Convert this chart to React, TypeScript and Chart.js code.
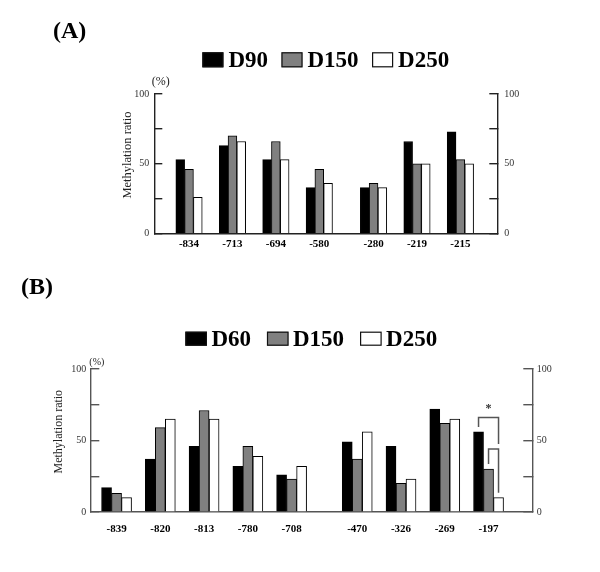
import React, { useEffect, useRef } from 'react';
import { Chart, registerables } from 'chart.js';

Chart.register(...registerables);

const SERIF = "'Liberation Serif', 'Times New Roman', serif";

// ---------- Data: panel (A) ----------
const sitesA = ['-834', '-713', '-694', '-580', '-280', '-219', '-215'];
const d90A = [53, 63, 53, 33, 33, 66, 73];
const d150A = [46, 70, 66, 46, 36, 50, 53];
const d250A = [26, 66, 53, 36, 33, 50, 50];

// ---------- Data: panel (B) ----------
const sitesB = ['-839', '-820', '-813', '-780', '-708', '-470', '-326', '-269', '-197'];
const d60B = [17, 37, 46, 32, 26, 49, 46, 72, 56];
const d150B = [13, 59, 71, 46, 23, 37, 20, 62, 30];
const d250B = [10, 65, 65, 39, 32, 56, 23, 65, 10];

// y-axis ticks (marks) and the ones that carry a label
const yTickValues = [0, 25, 50, 75, 100];
const yTickLabels = [0, 50, 100];

// significance brackets for panel (B): at site index, between series, top level (%)
const bracketsB = [
  { index: 8, from: 0, to: 2, level: 66 },
  { index: 8, from: 1, to: 2, level: 44 },
];

const BLACK = '#000000';
const GRAY = '#808080';
const WHITE = '#ffffff';

const decorPlugin = {
  id: 'decor',
  afterDraw(chart: any, _args: any, opts: any) {
    const { ctx, chartArea: ca } = chart;
    ctx.save();
    ctx.fillStyle = '#000';
    // panel title
    ctx.font = `bold ${opts.titleSize}px ${SERIF}`;
    ctx.textAlign = 'left';
    ctx.textBaseline = 'middle';
    ctx.fillText(opts.title, opts.titleX, opts.titleY);

    // legend
    const ds = chart.data.datasets;
    ctx.font = `bold ${opts.legendFont}px ${SERIF}`;
    const widths = ds.map((d: any) => ctx.measureText(d.label).width);
    const total =
      ds.length * (opts.boxW + opts.boxGap) +
      widths.reduce((a: number, b: number) => a + b, 0) +
      (ds.length - 1) * opts.itemGap;
    let x = (ca.left + ca.right) / 2 - total / 2;
    const by = opts.boxTop;
    ds.forEach((d: any, i: number) => {
      ctx.fillStyle = d.backgroundColor;
      ctx.fillRect(x, by, opts.boxW, opts.boxH);
      ctx.strokeStyle = '#111';
      ctx.lineWidth = 1.2;
      ctx.strokeRect(x + 0.5, by + 0.5, opts.boxW - 1, opts.boxH - 1);
      ctx.fillStyle = '#000';
      ctx.textBaseline = 'alphabetic';
      ctx.textAlign = 'left';
      ctx.fillText(d.label, x + opts.boxW + opts.boxGap, by + opts.boxH);
      x += opts.boxW + opts.boxGap + widths[i] + opts.itemGap;
    });

    // (%) unit label
    ctx.font = `${opts.unitFont}px ${SERIF}`;
    ctx.fillStyle = '#222';
    ctx.textBaseline = 'middle';
    ctx.textAlign = 'left';
    ctx.fillText('(%)', ca.left + opts.unitDx, ca.top + opts.unitDy);

    // y title
    ctx.save();
    ctx.translate(opts.yTitleX, opts.yTitleY);
    ctx.rotate(-Math.PI / 2);
    ctx.font = `${opts.yTitleFont}px ${SERIF}`;
    ctx.textAlign = 'center';
    ctx.textBaseline = 'middle';
    ctx.fillText('Methylation ratio', 0, 0);
    ctx.restore();

    // brackets
    const brs = opts.brackets || [];
    if (brs.length) {
      const ys = chart.scales.y;
      const items = brs.map((b: any) => {
        const eF = chart.getDatasetMeta(b.from).data[b.index];
        const eT = chart.getDatasetMeta(b.to).data[b.index];
        return { xL: eF.x, xR: eT.x, yT: ys.getPixelForValue(b.level), bL: eF.y, bR: eT.y };
      });
      ctx.strokeStyle = '#555';
      ctx.lineWidth = 1.5;
      items.forEach((it: any, k: number) => {
        const legBottom = (xx: number, barTop: number) => {
          let bottom = barTop - 5;
          items.forEach((o: any, j: number) => {
            if (j !== k && o.yT > it.yT && xx >= o.xL - 1 && xx <= o.xR + 1) {
              bottom = Math.min(bottom, o.yT - 5);
            }
          });
          return bottom;
        };
        ctx.beginPath();
        ctx.moveTo(it.xL, legBottom(it.xL, it.bL));
        ctx.lineTo(it.xL, it.yT);
        ctx.lineTo(it.xR, it.yT);
        ctx.lineTo(it.xR, legBottom(it.xR, it.bR));
        ctx.stroke();
      });
      const top = items.reduce((a: any, b: any) => (b.yT < a.yT ? b : a));
      ctx.fillStyle = '#333';
      ctx.font = `bold 12px ${SERIF}`;
      ctx.textAlign = 'center';
      ctx.textBaseline = 'middle';
      ctx.fillText('*', (top.xL + top.xR) / 2, top.yT - 9);
    }
    ctx.restore();
  },
};

function makeConfig(p: any) {
  const xs = p.sites.map((_: string, i: number) => i + (i >= p.gapIndex ? p.gap : 0));
  const yAxis = (position: string, labelPad: number) => ({
    type: 'linear',
    position,
    min: 0,
    max: 100,
    afterBuildTicks: (s: any) => {
      s.ticks = yTickValues.map((v) => ({ value: v }));
    },
    afterFit: (s: any) => {
      s.width = 40;
    },
    grid: {
      drawOnChartArea: false,
      tickLength: -p.tickLen,
      color: p.axisColor,
      lineWidth: 1.4,
    },
    border: { display: true, color: p.axisColor, width: 1.4 },
    ticks: {
      autoSkip: false,
      padding: p.tickLen + labelPad,
      color: '#333',
      font: { family: SERIF, size: 10 },
      callback: (v: number) => (yTickLabels.includes(v) ? String(v) : ''),
    },
  });
  return {
    type: 'bar',
    data: {
      datasets: p.series.map((s: any) => ({
        label: s.label,
        data: s.values.map((v: number, i: number) => ({ x: xs[i], y: v })),
        backgroundColor: s.color,
        borderColor: '#000',
        borderWidth: 1,
        barThickness: p.barW,
        yAxisID: 'y',
        xAxisID: 'x',
      })),
    },
    options: {
      responsive: false,
      animation: false,
      events: [],
      layout: { padding: p.padding },
      plugins: {
        legend: { display: false },
        tooltip: { enabled: false },
        decor: p.decor,
      },
      scales: {
        x: {
          type: 'linear',
          min: p.xMin,
          max: p.xMax,
          offset: false,
          afterBuildTicks: (s: any) => {
            s.ticks = xs.map((v: number) => ({ value: v }));
          },
          afterFit: (s: any) => {
            s.height = p.xAxisH;
          },
          grid: { display: false, drawTicks: false },
          border: { display: true, color: p.axisColor, width: 1.4 },
          ticks: {
            autoSkip: false,
            maxRotation: 0,
            padding: p.xLabelPad,
            color: '#000',
            font: { family: SERIF, size: 11, weight: 'bold' },
            callback: (_v: number, i: number) => p.sites[i],
          },
        },
        y: yAxis('left', p.leftPad),
        y2: yAxis('right', p.rightPad),
      },
    },
    plugins: [decorPlugin],
  };
}

const panelA = {
  sites: sitesA,
  gapIndex: 4,
  gap: 0.25,
  xMin: -0.8,
  xMax: 7.1,
  barW: 8.8,
  tickLen: 8,
  axisColor: '#222',
  leftPad: 5,
  rightPad: 7,
  xAxisH: 20,
  xLabelPad: 3.5,
  padding: { left: 114.3, right: 62.7, top: 94, bottom: 16.3 },
  series: [
    { label: 'D90', values: d90A, color: BLACK },
    { label: 'D150', values: d150A, color: GRAY },
    { label: 'D250', values: d250A, color: WHITE },
  ],
  decor: {
    title: '(A)', titleSize: 24, titleX: 53, titleY: 31.5,
    legendFont: 23, boxW: 21, boxH: 15, boxGap: 5, itemGap: 13.5, boxTop: 52.3,
    unitFont: 12, unitDx: -2.6, unitDy: -12,
    yTitleX: 128, yTitleY: 155, yTitleFont: 12.5,
    brackets: [],
  },
};

const panelB = {
  sites: sitesB,
  gapIndex: 5,
  gap: 0.5,
  xMin: -0.6,
  xMax: 9.5,
  barW: 10,
  tickLen: 9,
  axisColor: '#555',
  leftPad: 4,
  rightPad: 4.5,
  xAxisH: 30,
  xLabelPad: 11,
  padding: { left: 50.3, right: 27.7, top: 99, bottom: 30 },
  series: [
    { label: 'D60', values: d60B, color: BLACK },
    { label: 'D150', values: d150B, color: GRAY },
    { label: 'D250', values: d250B, color: WHITE },
  ],
  decor: {
    title: '(B)', titleSize: 24, titleX: 21, titleY: 17.5,
    legendFont: 23, boxW: 21.5, boxH: 14, boxGap: 4.5, itemGap: 16, boxTop: 61.7,
    unitFont: 10, unitDx: -1, unitDy: -7,
    yTitleX: 59, yTitleY: 161.7, yTitleFont: 12,
    brackets: bracketsB,
  },
};

function Panel({ cfg, top, height }: { cfg: any; top: number; height: number }) {
  const ref = useRef<HTMLCanvasElement | null>(null);
  useEffect(() => {
    if (!ref.current) return;
    const chart = new Chart(ref.current, makeConfig(cfg) as any);
    return () => chart.destroy();
  }, [cfg]);
  return (
    <canvas
      ref={ref}
      width={600}
      height={height}
      style={{ position: 'absolute', left: 0, top, width: 600, height }}
    />
  );
}

export default function App() {
  return (
    <div style={{ position: 'absolute', left: 0, top: 0, width: 600, height: 572, background: '#fff' }}>
      <Panel cfg={panelA} top={0} height={270} />
      <Panel cfg={panelB} top={270} height={302} />
    </div>
  );
}
